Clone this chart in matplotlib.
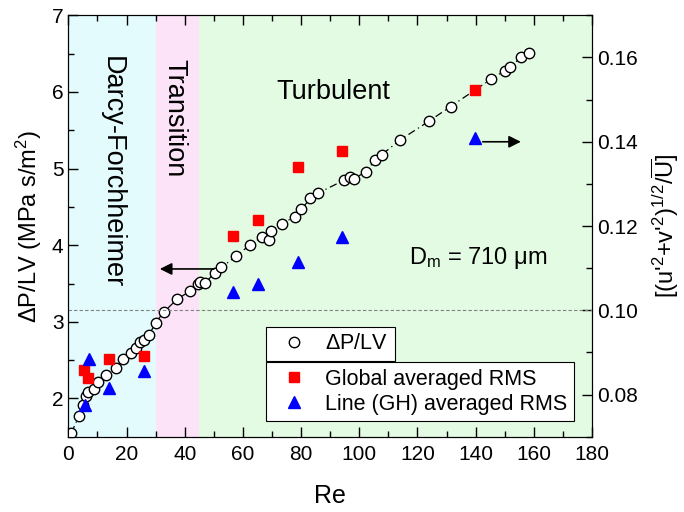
import numpy as np
import matplotlib
matplotlib.use("Agg")
import matplotlib.pyplot as plt

plt.rcParams['font.family'] = ['Liberation Sans', 'DejaVu Sans']
plt.rcParams['mathtext.fontset'] = 'custom'
plt.rcParams['mathtext.rm'] = 'Liberation Sans'
plt.rcParams['mathtext.it'] = 'Liberation Sans:italic'

# pressure drop data (left axis)
re_dp = [1.0, 3.7, 4.9, 6.0, 6.9, 8.9, 10.3, 12.8, 16.3, 18.9, 21.7, 23.2, 24.6, 26.0, 27.8,
         30.0, 32.9, 37.5, 41.9, 44.6, 45.2, 47.1, 50.3, 52.6, 57.8, 62.3, 66.6, 69.1, 69.8,
         73.3, 77.8, 80.1, 83.2, 85.8, 94.9, 96.8, 98.3, 102.3, 105.4, 107.7, 113.9, 124.0,
         131.4, 145.4, 150.1, 151.8, 155.7, 158.3]
dp = [1.55, 1.77, 1.91, 2.03, 2.08, 2.12, 2.21, 2.31, 2.40, 2.51, 2.59, 2.66, 2.74, 2.76, 2.83,
      2.99, 3.13, 3.30, 3.40, 3.49, 3.52, 3.51, 3.64, 3.71, 3.86, 4.00, 4.11, 4.07, 4.19,
      4.28, 4.37, 4.47, 4.61, 4.68, 4.85, 4.89, 4.87, 4.96, 5.11, 5.18, 5.37, 5.62,
      5.81, 6.17, 6.28, 6.33, 6.45, 6.51]

# RMS data (right axis)
re_glob = [5.4, 6.9, 14.0, 26.0, 56.6, 65.1, 78.9, 94.1, 139.7]
rms_glob = [0.0859, 0.0839, 0.0884, 0.0891, 0.1176, 0.1214, 0.1339, 0.1379, 0.1522]
re_line = [5.7, 7.1, 14.1, 26.1, 56.6, 65.1, 78.9, 94.1, 139.7]
rms_line = [0.0775, 0.0885, 0.0815, 0.0855, 0.1043, 0.1062, 0.1114, 0.1174, 0.1408]

fig = plt.figure(figsize=(6.84, 5.12), dpi=100)
ax = fig.add_axes([0.0999, 0.147, 0.7656, 0.823])
ax2 = ax.twinx()

# flow regimes
ax.axvspan(0, 30, color='#e3fbfd', lw=0, zorder=0)
ax.axvspan(30, 45, color='#fde3f8', lw=0, zorder=0)
ax.axvspan(45, 180, color='#e3fbe3', lw=0, zorder=0)

ax.plot(re_dp, dp, color='black', ls=(0, (6, 3, 1, 3)), lw=0.9, zorder=2)
l1, = ax.plot(re_dp, dp, 'o', ls='none', mfc='white', mec='black', ms=7.5, mew=1.0,
              zorder=3, label=r'$\Delta$P/LV')

ax2.axhline(0.10, color='grey', ls=(0, (3, 2)), lw=0.8)
l2, = ax2.plot(re_glob, rms_glob, 's', color='red', ms=7, ls='none', label='Global averaged RMS')
l3, = ax2.plot(re_line, rms_line, '^', color='blue', ms=8, ls='none', label='Line (GH) averaged RMS')

ax.set_xlim(0, 180)
ax.set_ylim(1.5, 7)
ax2.set_ylim(0.07, 0.17)

ax.set_xticks(np.arange(0, 181, 20))
ax.set_xticks(np.arange(10, 180, 20), minor=True)
ax.set_yticks(np.arange(2, 8, 1))
ax.set_yticks(np.arange(1.5, 7.1, 0.5), minor=True)
ax2.set_yticks([0.08, 0.10, 0.12, 0.14, 0.16])
ax2.set_yticks([0.07, 0.09, 0.11, 0.13, 0.15, 0.17], minor=True)
ax2.set_yticklabels(['0.08', '0.10', '0.12', '0.14', '0.16'])

ax.tick_params(axis='x', which='both', direction='in', top=True, labelsize=15, pad=6)
ax.tick_params(axis='y', which='both', direction='in', labelsize=15)
ax.tick_params(which='major', length=7, width=1)
ax.tick_params(which='minor', length=4, width=1)
ax2.tick_params(which='both', direction='in', labelsize=15, width=1)
ax2.tick_params(which='major', length=7)
ax2.tick_params(which='minor', length=4)

ax.set_xlabel('Re', fontsize=18, labelpad=14)
ax.set_ylabel(r'$\Delta$P/LV (MPa s/m$^2$)', fontsize=17, labelpad=6)
ax2.set_ylabel(r"[(u'$^2$+v'$^2$)$^{1/2}$/$\overline{\mathrm{U}}$]", fontsize=17, labelpad=8)

# region labels
ax.text(15, 4.95, 'Darcy-Forchheimer', rotation=270, fontsize=19.5, ha='center', va='center')
ax.text(36.6, 5.66, 'Transition', rotation=270, fontsize=19.5, ha='center', va='center')
ax.text(91, 6.0, 'Turbulent', fontsize=19.5, ha='center', va='center')
ax.text(117, 3.83, 'D$_\\mathrm{m}$ = 710 \u03bcm', fontsize=17, ha='left', va='center')

# arrows to axes
ax.annotate('', xy=(30.5, 3.69), xytext=(51, 3.69),
            arrowprops=dict(arrowstyle='-|>', color='black', lw=1.2, mutation_scale=18))
ax2.annotate('', xy=(156.5, 0.14), xytext=(141.5, 0.14),
             arrowprops=dict(arrowstyle='-|>', color='black', lw=1.2, mutation_scale=18))

leg1 = ax2.legend(handles=[l1], loc='upper left', bbox_to_anchor=(0.3775, 0.2604),
                  borderaxespad=0, fancybox=False, edgecolor='black', framealpha=1,
                  fontsize=15.5, handletextpad=0.45, borderpad=0.3)
leg1.get_frame().set_linewidth(0.8)
ax2.add_artist(leg1)
leg2 = ax2.legend(handles=[l2, l3], loc='upper left', bbox_to_anchor=(0.3775, 0.177),
                  borderaxespad=0, fancybox=False, edgecolor='black', framealpha=1,
                  fontsize=15.5, handletextpad=0.45, borderpad=0.3, labelspacing=0.2)
leg2.get_frame().set_linewidth(0.8)

fig.savefig('out.png', dpi=100)
